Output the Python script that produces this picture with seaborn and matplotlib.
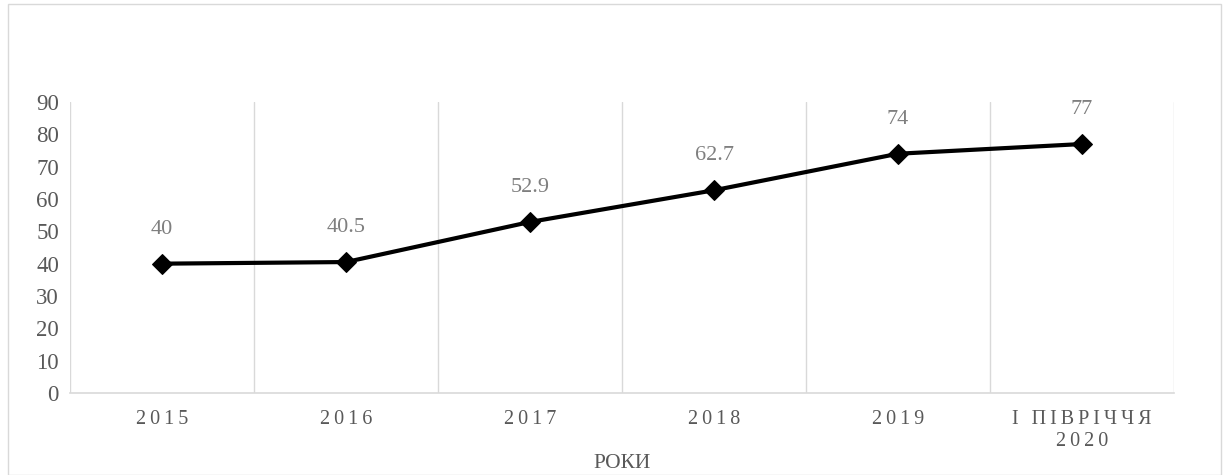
import matplotlib
matplotlib.use("Agg")
import matplotlib.pyplot as plt
import seaborn as sns
import pandas as pd

categories = ["2015", "2016", "2017", "2018", "2019", "І ПІВРІЧЧЯ\n2020"]
values = [40, 40.5, 52.9, 62.7, 74, 77]
value_labels = ["40", "40.5", "52.9", "62.7", "74", "77"]
y_ticks = [0, 10, 20, 30, 40, 50, 60, 70, 80, 90]
x_title = "РОКИ"

sns.set_theme(style="white")
plt.rcParams['font.family'] = ['Liberation Serif', 'DejaVu Serif']

def spaced(s):
    return "\n".join("\u2009".join(list(line)) for line in s.split("\n"))

df = pd.DataFrame({"cat": categories, "val": values})

fig = plt.figure(figsize=(12.29, 4.75), dpi=100)
ax = fig.add_axes([70/1229, 1-393/475, (1174-70)/1229, (393-102)/475])

sns.lineplot(data=df, x="cat", y="val", ax=ax, color="black", linewidth=3.0,
             marker="D", markersize=10, markeredgecolor="black", markerfacecolor="black",
             sort=False)

ax.set_xlim(-0.5, len(categories) - 0.5)
ax.set_ylim(0, 90)
ax.set_yticks(y_ticks)
ax.set_yticklabels([str(t) for t in y_ticks], fontsize=16.5, color="#595959")
ax.set_xticks(range(len(categories)))
ax.set_xticklabels([spaced(c) for c in categories], fontsize=14.5, color="#595959", linespacing=1.25)
ax.set_xticks([i - 0.5 for i in range(len(categories) + 1)], minor=True)
ax.grid(False)
ax.grid(True, which="minor", axis="x", color="#d9d9d9", linewidth=1)
ax.tick_params(axis="both", which="both", length=0)
ax.tick_params(axis="x", which="major", pad=12)
ax.tick_params(axis="y", pad=8)

for s in ["top", "right", "left"]:
    ax.spines[s].set_visible(False)
ax.spines["bottom"].set_color("#d9d9d9")
ax.spines["bottom"].set_linewidth(1.2)

ax.set_xlabel(x_title, fontsize=15.5, color="#595959", labelpad=2)
ax.set_ylabel("")

for i, (v, lab) in enumerate(zip(values, value_labels)):
    ax.annotate(lab, (i, v), xytext=(0, 18), textcoords="offset points",
                ha="center", va="bottom", fontsize=16, color="#7f7f7f")

# outer chart border
fig.patches.append(plt.Rectangle((8/1229, 0.0), 1 - 16/1229, 1 - 4/475, transform=fig.transFigure,
                                 fill=False, edgecolor="#d9d9d9", linewidth=1))

fig.savefig("out.png", dpi=100)
